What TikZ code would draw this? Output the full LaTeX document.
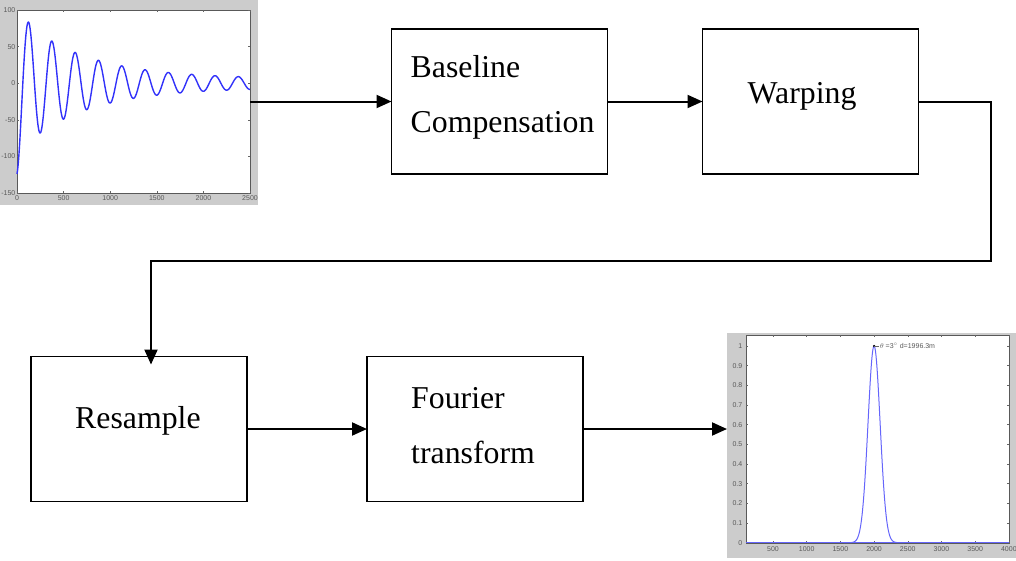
\documentclass[tikz,border=0pt]{standalone}
\usepackage{fontspec}
\setmainfont{Liberation Serif}
\newfontfamily\axfont{Liberation Sans}
\usetikzlibrary{positioning,arrows.meta,calc}
\definecolor{trace}{RGB}{50,50,250}
\tikzset{
  box/.style   ={draw, line width=1.7pt, minimum width=216pt, minimum height=145pt,
                 inner sep=0pt, outer sep=0pt},
  lbl/.style   ={font=\fontsize{31.8}{55}\selectfont, align=left, inner sep=0pt,
                 anchor=base west},
  fl/.style    ={-{Triangle[length=15pt,width=13pt]}, line width=2pt},
  frame/.style ={fill=black!20, draw=none, inner sep=0pt, outer sep=0pt, anchor=north west},
  axes/.style  ={fill=white, draw=black!65, line width=0.6pt, inner sep=0pt,
                 outer sep=0pt, anchor=north west},
  tk/.style    ={font=\axfont\fontsize{7}{8}\selectfont, text=black!65, inner sep=0.5pt},
  tick/.style  ={draw=black!60, line width=0.5pt},
  sig/.style   ={draw=trace, line width=1.4pt, line join=round},
}

\begin{document}
\begin{tikzpicture}[x=1pt, y=-1pt]
  \useasboundingbox (0,0) rectangle (1016,560);

  % ---- input signal --------------------------------------------------
  \node[frame, minimum width=258pt, minimum height=205pt] (sigfr) at (0,0) {};
  \node[axes, minimum width=233pt, minimum height=183pt] (sigax) at (17,10) {};
  \foreach \v [count=\i] in {100,50,0,-50,-100,-150} {
    \node[tk, anchor=east] (sy\i) at (16,{83.2-0.732*\v}) {\v};
    \draw[tick] (17,{83.2-0.732*\v}) -- ++(2,0) (250,{83.2-0.732*\v}) -- ++(-2,0);
  }
  \foreach \t [count=\i] in {0,500,...,2500} {
    \node[tk, anchor=north] (sx\i) at ({17+0.0932*\t},194.5) {\t};
    \draw[tick] ({17+0.0932*\t},193) -- ++(0,-2) ({17+0.0932*\t},10) -- ++(0,2);
  }
  \draw[sig] plot[domain=0:2500, samples=500]
        ({17+0.0932*\x},{83.2+0.732*(88*exp(-\x/700)+6+30*exp(-\x/60))*cos(1.44*\x)});

  % ---- processing chain ----------------------------------------------
  \node[box] (base) at (499.5,101.5) {};
  \node[box, right=95pt of base] (warp) {};
  \node[box] (res) at (139,429) {};
  \node[box, right=120pt of res] (four) {};

  \node[lbl] (baset) at ([xshift=19pt,yshift=-103pt]base.north west)
        {Baseline\\Compensation};
  \node[lbl] (warpt) at ([xshift=45pt,yshift=-74pt]warp.north west) {Warping};
  \node[lbl] (rest)  at ([xshift=44pt,yshift=-72pt]res.north west) {Resample};
  \node[lbl] (fourt) at ([xshift=44pt,yshift=-107pt]four.north west)
        {Fourier\\transform};

  % ---- spectrum ------------------------------------------------------
  \node[frame, minimum width=289pt, minimum height=225pt] (specfr) at (727,333) {};
  \node[axes, minimum width=263pt, minimum height=208pt] (specax) at (746,335) {};
  \foreach \v [count=\i] in {0,0.1,0.2,0.3,0.4,0.5,0.6,0.7,0.8,0.9,1} {
    \node[tk, anchor=east] (py\i) at (743,{542.7-196.7*\v}) {\v};
    \draw[tick] (746,{542.7-196.7*\v}) -- ++(2,0) (1009,{542.7-196.7*\v}) -- ++(-2,0);
  }
  \foreach \t [count=\i] in {500,1000,...,4000} {
    \node[tk, anchor=north] (px\i) at ({746+(\t-100)*0.0674},545.5) {\t};
    \draw[tick] ({746+(\t-100)*0.0674},543) -- ++(0,-2) ({746+(\t-100)*0.0674},335) -- ++(0,2);
  }
  \draw[sig, draw=trace!75, line width=1pt] (746,542.7) -- (1009,542.7);
  \draw[sig, draw=trace!75, line width=1pt] plot[domain=-4.5:4.5, samples=181]
        ({746+(1900+100*\x)*0.0674},{542.7-196.7*exp(-\x*\x/1.62)});
  \coordinate (peak) at ({746+1900*0.0674},346);
  \fill (peak) circle (1.2pt);
  \node[tk, anchor=west] (note) at ([xshift=5pt]peak) {$\theta$ =3$^{\circ}$ d=1996.3m};
  \draw[tick] (peak) -- (note.west);

  % ---- connectors ----------------------------------------------------
  \coordinate (turn) at (991,261);
  \draw[fl] (sigax.east) -- (base.west);
  \draw[fl] (base) -- (warp);
  \draw[fl, shorten >=-8pt] (warp.east) -| (turn) -| ([xshift=12pt]res.north);
  \draw[fl] (res) -- (four);
  \draw[fl] (four.east) -- (four.east -| specfr.west);
\end{tikzpicture}
\end{document}
